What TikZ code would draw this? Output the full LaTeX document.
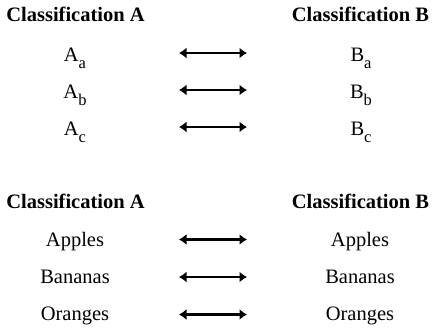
\documentclass[tikz,border=0pt]{standalone}
\usepackage{fontspec}
\setmainfont{Liberation Serif}
\usetikzlibrary{arrows.meta}
\newcommand{\mysub}[1]{\raisebox{-7pt}{\fontsize{16.5}{16.5}\selectfont #1}}
\tikzset{
  head/.style={anchor=base, inner sep=0pt, font=\fontsize{20.5}{24}\selectfont\bfseries},
  item/.style={anchor=base, inner sep=0pt, font=\fontsize{20.5}{24}\selectfont},
  link/.style={line width=2.8pt, {Latex[length=7.5pt,width=11pt]}-{Latex[length=7.5pt,width=11pt]}}
}
\begin{document}
\begin{tikzpicture}[x=1pt,y=-1pt]
\useasboundingbox (0,0) rectangle (433,327);
% top block
\node[head] (ha1) at (75.5,21.5) {Classification A};
\node[head] (hb1) at (360.5,21.5) {Classification B};
\node[item] (a1) at (75,61) {A\mysub{a}};
\node[item] (a2) at (75,98) {A\mysub{b}};
\node[item] (a3) at (75,135) {A\mysub{c}};
\node[item] (b1) at (361,61) {B\mysub{a}};
\node[item] (b2) at (361,98) {B\mysub{b}};
\node[item] (b3) at (361,135) {B\mysub{c}};
% bottom block
\node[head] (ha2) at (75.5,208) {Classification A};
\node[head] (hb2) at (360.5,208) {Classification B};
\node[item] (c1) at (75,246) {Apples};
\node[item] (c2) at (75,283) {Bananas};
\node[item] (c3) at (75,320) {Oranges};
\node[item] (d1) at (360,246) {Apples};
\node[item] (d2) at (360,283) {Bananas};
\node[item] (d3) at (360,320) {Oranges};
% arrow ends
\foreach \n/\y in {1/53,2/90,3/127,4/239.5,5/277,6/314.5}{
  \coordinate (l\n) at (179,\y);
  \coordinate (r\n) at (247,\y);
  \draw[link] (l\n) -- (r\n);
}
\end{tikzpicture}
\end{document}
